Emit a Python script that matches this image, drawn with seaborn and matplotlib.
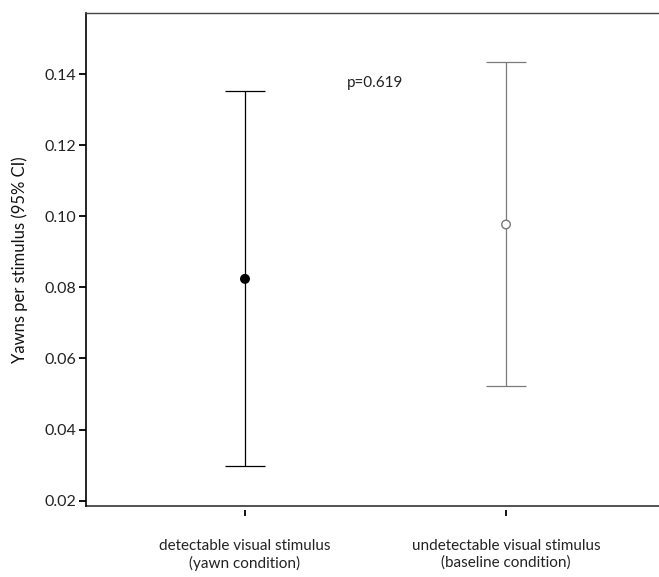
import numpy as np
import pandas as pd
import seaborn as sns
import matplotlib
matplotlib.use("Agg")
import matplotlib.pyplot as plt

categories = ["detectable visual stimulus\n(yawn condition)",
              "undetectable visual stimulus\n(baseline condition)"]
means = [0.0824, 0.0977]
ci_low = [0.0298, 0.0522]
ci_high = [0.1353, 0.1434]
colors = ["#000000", "#7a7a7a"]
cap_colors = ["#000000", "#222222"]
face_colors = ["#000000", "#ffffff"]
yticks = [0.02, 0.04, 0.06, 0.08, 0.10, 0.12, 0.14]
p_text = "p=0.619"

sns.set_theme(style="white")
plt.rcParams["font.family"] = ["Lato", "DejaVu Sans"]

fig = plt.figure(figsize=(6.59, 5.77), dpi=100)
ax = fig.add_axes([86/659, 1-506/577, (659-86)/659, (506-13)/577])

df = pd.DataFrame({"cat": categories, "mean": means, "lo": ci_low, "hi": ci_high})

for i, row in df.iterrows():
    cont = ax.errorbar(i, row["mean"],
                       yerr=[[row["mean"] - row["lo"]], [row["hi"] - row["mean"]]],
                       fmt="none", ecolor=colors[i], elinewidth=0.9, capsize=14.4,
                       capthick=0.9, zorder=2)
    for cap in cont[1]:
        cap.set_color(cap_colors[i])

sns.scatterplot(data=df, x="cat", y="mean", hue="cat", palette=face_colors,
                edgecolor=colors, linewidth=1.0, s=38, legend=False, ax=ax, zorder=3)
coll = ax.collections[-1]
coll.set_edgecolors(colors)

ax.set_xlim(-0.609, 1.586)
ax.set_ylim(0.0185, 0.1572)
ax.set_yticks(yticks)
ax.set_yticklabels([f"{v:.2f}" for v in yticks])
ax.set_xlabel("")
ax.set_ylabel("Yawns per stimulus (95% CI)", fontsize=12, color="#111111", labelpad=12)

ax.tick_params(axis="y", direction="out", length=5, width=1.3, color="#000000",
               labelsize=11.5, labelcolor="#222222", pad=2, left=True)
ax.tick_params(axis="x", direction="out", length=4, width=1.3, color="#000000",
               labelsize=11, labelcolor="#222222", pad=17, bottom=True)
for lbl in ax.get_xticklabels():
    lbl.set_linespacing(1.35)

for s in ["left", "top", "bottom"]:
    ax.spines[s].set_visible(True)
ax.spines["right"].set_visible(False)
ax.spines["left"].set_color("#000000")
ax.spines["left"].set_linewidth(1.2)
ax.spines["top"].set_color("#444444")
ax.spines["top"].set_linewidth(1.0)
ax.spines["bottom"].set_position(("outward", 3))
ax.spines["bottom"].set_visible(False)
ax.axhline(0.0185, color="#444444", linewidth=1.3, clip_on=False)

ax.text(0.391, 0.1375, p_text, ha="left", va="center", fontsize=11, color="#222222")

fig.savefig("out.png", dpi=100)
